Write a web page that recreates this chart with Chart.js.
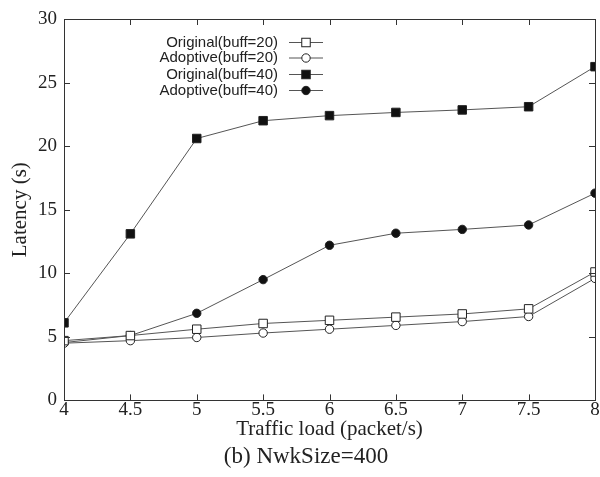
<!DOCTYPE html>
<html>
<head>
<meta charset="utf-8">
<script src="https://cdn.jsdelivr.net/npm/chart.js@4"></script>
<style>
html,body{margin:0;padding:0;background:#fff;overflow:hidden;}
#wrap{width:602px;height:477px;position:relative;}
</style>
</head>
<body>
<div id="wrap"><canvas id="c"></canvas></div>
<script>
const trafficLoad = [4, 4.5, 5, 5.5, 6, 6.5, 7, 7.5, 8];
const originalBuff20 = [4.7, 5.1, 5.6, 6.05, 6.3, 6.55, 6.8, 7.2, 10.1];
const adoptiveBuff20 = [4.5, 4.7, 4.95, 5.3, 5.6, 5.9, 6.2, 6.6, 9.6];
const originalBuff40 = [6.1, 13.1, 20.6, 22.0, 22.4, 22.65, 22.85, 23.1, 26.25];
const adoptiveBuff40 = [4.55, 5.1, 6.85, 9.5, 12.2, 13.15, 13.45, 13.8, 16.3];
const seriesNames = ['Original(buff=20)', 'Adoptive(buff=20)', 'Original(buff=40)', 'Adoptive(buff=40)'];
const yTicks = [0, 5, 10, 15, 20, 25, 30];
const xTickLabels = ['4', '4.5', '5', '5.5', '6', '6.5', '7', '7.5', '8'];

const toPts = arr => trafficLoad.map((x, i) => ({x: x, y: arr[i]}));
const lineColor = '#555';
const styles = [
  {pointStyle: 'rect', radius: 6, bg: '#fff'},
  {pointStyle: 'circle', radius: 4.2, bg: '#fff'},
  {pointStyle: 'rect', radius: 6, bg: '#111'},
  {pointStyle: 'circle', radius: 4.2, bg: '#111'}
];
const allSeries = [originalBuff20, adoptiveBuff20, originalBuff40, adoptiveBuff40];
const datasets = allSeries.map((s, i) => ({
  label: seriesNames[i],
  data: toPts(s),
  showLine: true,
  borderColor: lineColor,
  borderWidth: 1,
  pointStyle: styles[i].pointStyle,
  pointRadius: styles[i].radius,
  pointBackgroundColor: styles[i].bg,
  pointBorderColor: '#222',
  pointBorderWidth: 1,
  fill: false,
  tension: 0
}));

const tickPlugin = {
  id: 'inwardTicks',
  afterDatasetsDraw(chart) {
    const {ctx, chartArea: a, scales} = chart;
    ctx.save();
    ctx.strokeStyle = '#333';
    ctx.lineWidth = 1;
    const L = 6;
    scales.x.ticks.forEach(t => {
      const px = Math.round(scales.x.getPixelForValue(t.value)) + 0.5;
      ctx.beginPath();
      ctx.moveTo(px, a.bottom); ctx.lineTo(px, a.bottom - L);
      ctx.moveTo(px, a.top); ctx.lineTo(px, a.top + L);
      ctx.stroke();
    });
    scales.y.ticks.forEach(t => {
      const py = Math.round(scales.y.getPixelForValue(t.value)) + 0.5;
      ctx.beginPath();
      ctx.moveTo(a.left, py); ctx.lineTo(a.left + L, py);
      ctx.moveTo(a.right, py); ctx.lineTo(a.right - L, py);
      ctx.stroke();
    });
    ctx.strokeRect(Math.round(a.left) + 0.5, Math.round(a.top) + 0.5, Math.round(a.right - a.left), Math.round(a.bottom - a.top));
    // legend inside plot
    ctx.font = '15px "Liberation Sans", Arial, sans-serif';
    ctx.textAlign = 'right';
    ctx.textBaseline = 'middle';
    const rows = [42.5, 58, 74.5, 90.5];
    const textRight = 278, x0 = 289, x1 = 323, xm = 306;
    chart.data.datasets.forEach((ds, i) => {
      const y = rows[i];
      ctx.fillStyle = '#222';
      ctx.fillText(ds.label, textRight, y);
      ctx.beginPath();
      ctx.strokeStyle = lineColor;
      ctx.moveTo(x0, y); ctx.lineTo(x1, y);
      ctx.stroke();
      ctx.strokeStyle = '#222';
      ctx.fillStyle = ds.pointBackgroundColor;
      if (ds.pointStyle === 'rect') {
        const s = ds.pointRadius * Math.SQRT1_2;
        ctx.fillRect(xm - s, y - s, 2 * s, 2 * s);
        ctx.strokeRect(xm - s, y - s, 2 * s, 2 * s);
      } else {
        ctx.beginPath();
        ctx.arc(xm, y, ds.pointRadius, 0, Math.PI * 2);
        ctx.fill(); ctx.stroke();
      }
    });
    ctx.restore();
  }
};

const serif = '"Liberation Serif", "Times New Roman", serif';
new Chart(document.getElementById('c'), {
  type: 'scatter',
  data: {datasets},
  options: {
    responsive: true,
    maintainAspectRatio: false,
    animation: false,
    layout: {padding: {top: 19, left: 10, right: 0, bottom: 6}},
    plugins: {
      legend: {display: false},
      tooltip: {enabled: false},
      title: {
        display: true,
        position: 'bottom',
        text: '(b) NwkSize=400',
        color: '#222',
        font: {family: serif, size: 23, weight: 'normal', lineHeight: 1.2},
        padding: {top: 3, bottom: 0}
      }
    },
    scales: {
      x: {
        type: 'linear',
        min: 4, max: 8,
        border: {display: false},
        grid: {display: false, drawTicks: false},
        afterBuildTicks(scale) { scale.ticks = trafficLoad.map(v => ({value: v})); },
        ticks: {color: '#222', padding: 0, font: {family: serif, size: 19, lineHeight: 1}, maxRotation: 0,
          callback: (v, i) => xTickLabels[i]},
        title: {display: true, text: 'Traffic load (packet/s)', color: '#222', font: {family: serif, size: 21, lineHeight: 1}, padding: {top: 0, bottom: 0}}
      },
      y: {
        min: 0, max: 30,
        border: {display: false},
        grid: {display: false, drawTicks: false},
        afterBuildTicks(scale) { scale.ticks = yTicks.map(v => ({value: v})); },
        ticks: {color: '#222', padding: 7, font: {family: serif, size: 19}},
        title: {display: true, text: 'Latency (s)', color: '#222', font: {family: serif, size: 21, lineHeight: 1}, padding: {top: 0, bottom: 0}}
      }
    }
  },
  plugins: [tickPlugin]
});
</script>
</body>
</html>
